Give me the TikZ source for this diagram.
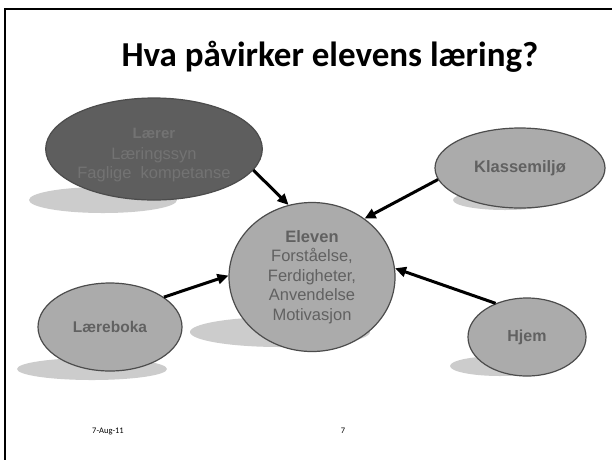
\documentclass[tikz,border=0pt]{standalone}
\usepackage{fontspec}
\setmainfont{Liberation Sans}
\newfontfamily\slidefont{Carlito}
\usetikzlibrary{arrows.meta,shapes.geometric,positioning}

\tikzset{
    boble/.style={ellipse, draw=black!70, line width=1.2pt, fill=black!33,
        text=black!62, inner sep=0pt, align=center, font=\fontsize{16.5}{19.5}\selectfont},
    skygge/.style={fill=black!20},
    pil/.style={-{Triangle[length=11pt,width=10pt]}, line width=3pt}
}

\begin{document}
\begin{tikzpicture}[x=1pt, y=-1pt]
    \useasboundingbox (0,0) rectangle (612,459);
    \fill[white] (0,0) rectangle (612,459);
    % ramme
    \draw[line width=1.6pt] (5,470) -- (5,9) -- (620,9);

    % tittel
    \node[font=\slidefont\bfseries\fontsize{35}{40}\selectfont] (tittel) at (330,57) {Hva påvirker elevens læring?};

    % skygger
    \fill[skygge] (103,200) ellipse (74 and 13);
    \fill[skygge] (280,332) ellipse (90 and 15);
    \fill[skygge] (505,200) ellipse (52 and 10);
    \fill[skygge] (92,369) ellipse (75 and 11);
    \fill[skygge] (500,366) ellipse (50 and 10);

    % bobler
    \node[boble, fill=black!63, text=black!55, minimum width=198pt, minimum height=102pt] (laerer) at (154,149)
        {\raisebox{-6pt}[\height][\depth]{\begin{tabular}{@{}c@{}}{\bfseries\fontsize{15}{19.5}\selectfont Lærer}\\[1pt]
         Læringssyn\\Faglige\ \ kompetanse\end{tabular}}};
    \node[boble, minimum width=166pt, minimum height=149pt] (eleven) at (312,277)
        {\textbf{Eleven}\\Forståelse,\\Ferdigheter,\\Anvendelse\\Motivasjon};
    \node[boble, minimum width=170pt, minimum height=80pt, font=\bfseries\fontsize{16.5}{19}\selectfont] (klasse) at (520,168) {Klassemiljø};
    \node[boble, minimum width=144pt, minimum height=88pt, font=\bfseries\fontsize{15.5}{19}\selectfont] (laereboka) at (110,327) {Læreboka};
    \node[boble, minimum width=118pt, minimum height=78pt, font=\bfseries\fontsize{16}{19}\selectfont] (hjem) at (527,337) {Hjem};

    % piler
    \draw[pil] (laerer.-12) -- (eleven.108);
    \draw[pil] (klasse.188) -- (eleven.48);
    \draw[pil] (laereboka.29) -- (eleven.179);
    \draw[pil] (hjem.133) -- (eleven.6);

    % bunntekst
    \node[font=\slidefont\fontsize{8.5}{10}\selectfont] (dato) at (108,431) {7-Aug-11};
    \node[font=\slidefont\fontsize{8.5}{10}\selectfont] (side) at (343,431) {7};
\end{tikzpicture}
\end{document}
